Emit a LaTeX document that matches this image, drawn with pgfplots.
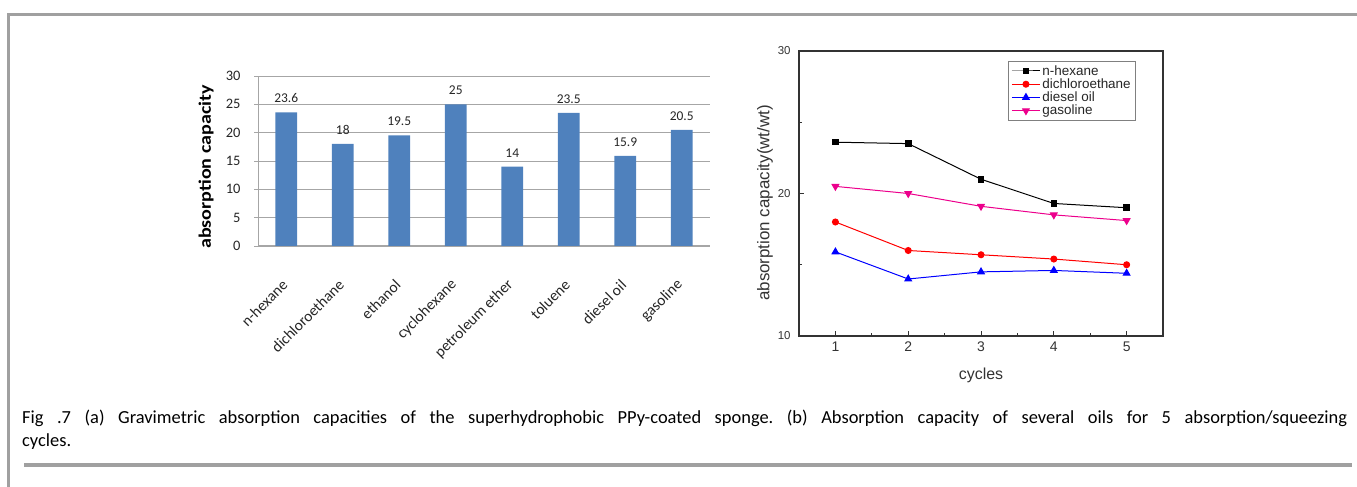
\documentclass[border=0pt]{standalone}
\usepackage{fontspec}
\setmainfont{Carlito}
\newfontfamily\arialfont{Liberation Sans}
\usepackage{pgfplots}
\pgfplotsset{compat=1.18}
\definecolor{barblue}{HTML}{4F81BD}
\definecolor{framegray}{HTML}{A0A0A0}
\definecolor{gridgray}{HTML}{A6A6A6}
\definecolor{axisdark}{HTML}{333333}

\begin{document}
\begin{tikzpicture}[x=1bp,y=1bp]
\path[use as bounding box] (0,0) rectangle (1357,487);

% page frame
\draw[framegray, line width=3bp] (8,0) -- (8,472.5) -- (1357,472.5);
\draw[framegray, line width=4bp] (24,22.3) -- (1352,22.3);

% (a) gravimetric absorption capacities
\begin{axis}[
  at={(258bp,241bp)}, anchor=south west, scale only axis,
  width=452bp, height=170bp,
  xmin=-0.5, xmax=7.5, ymin=0, ymax=30,
  axis x line*=bottom, axis y line*=left,
  axis line style={-, gridgray, line width=1bp},
  ytick={0,5,...,30},
  xtick={0,...,7},
  xticklabels={n-hexane, dichloroethane, ethanol, cyclohexane, petroleum ether, toluene, diesel oil, gasoline},
  ymajorgrids,
  major grid style={gridgray, line width=0.9bp},
  xtick style={draw=none},
  ytick style={gridgray, line width=0.9bp},
  tick align=outside, major tick length=4bp,
  /pgf/number format/assume math mode=true,
  tick label style={font=\fontsize{14.5}{16}\selectfont, text=black!85},
  yticklabel style={anchor=east, xshift=-10bp},
  xticklabel style={font=\fontsize{15.5}{17}\selectfont, xshift=1bp, yshift=-30bp, rotate=45, anchor=east},
  ylabel={absorption capacity},
  every axis y label/.style={at={(axis description cs:-0.115,0.465)}, rotate=90, xscale=1.15, anchor=center,
    font=\fontsize{17.5}{19}\selectfont\bfseries, text=black},
  nodes near coords,
  nodes near coords style={font=\fontsize{13.5}{15}\selectfont, text=black!85, anchor=south, yshift=6bp},
  clip=false,
]
\addplot[ybar, bar width=21.7bp, fill=barblue, draw=none] coordinates {
  (0,23.6) (1,18) (2,19.5) (3,25) (4,14) (5,23.5) (6,15.9) (7,20.5)
};
\end{axis}

% (b) absorption over repeated cycles
\begin{axis}[
  at={(799bp,151bp)}, anchor=south west, scale only axis,
  width=364bp, height=285bp,
  xmin=0.5, xmax=5.5, ymin=10, ymax=30,
  xtick={1,...,5}, ytick={10,20,30},
  minor xtick={1.5,2.5,3.5,4.5}, minor ytick={15,25},
  xtick pos=left, ytick pos=left,
  tick align=inside, major tick length=4.5bp, minor tick length=2.5bp,
  axis line style={axisdark, line width=1.3bp},
  tick style={axisdark, line width=1bp},
  /pgf/number format/assume math mode=true,
  xticklabel style={font=\arialfont\fontsize{14}{16}\selectfont, text=axisdark, yshift=-2bp},
  yticklabel style={font=\arialfont\fontsize{11.5}{13}\selectfont, text=axisdark, xshift=-5bp},
  xlabel={cycles},
  ylabel={absorption capacity(wt/wt)},
  every axis x label/.style={at={(axis description cs:0.5,-0.137)}, anchor=center,
    font=\arialfont\fontsize{16}{18}\selectfont, text=axisdark},
  every axis y label/.style={at={(axis description cs:-0.0934,0.467)}, rotate=90, anchor=center,
    font=\arialfont\fontsize{17}{19}\selectfont, text=axisdark},
  legend style={at={(axis description cs:0.926,0.965)}, anchor=north east,
    draw=gray, line width=0.8bp, fill=white,
    font=\arialfont\fontsize{13.5}{14}\selectfont, text=black!85,
    inner xsep=3bp, inner ysep=2bp, row sep=-2bp,
    nodes={inner sep=2bp}},
  legend cell align=left,
  legend image code/.code={\draw[mark repeat=2, mark phase=2, #1] plot coordinates {(0bp,0bp) (14bp,0bp) (28bp,0bp)};},
  every axis plot/.append style={line width=1bp},
]
\addplot[black, mark=square*, mark size=2.8bp, mark options={solid}] coordinates {
  (1,23.6) (2,23.5) (3,21.0) (4,19.3) (5,19.0)
};
\addlegendentry{n-hexane}
\addplot[red, mark=*, mark size=3bp] coordinates {
  (1,18.0) (2,16.0) (3,15.7) (4,15.4) (5,15.0)
};
\addlegendentry{dichloroethane}
\addplot[blue, mark=triangle*, mark size=3.8bp] coordinates {
  (1,15.9) (2,14.0) (3,14.5) (4,14.6) (5,14.4)
};
\addlegendentry{diesel oil}
\addplot[magenta, mark=triangle*, mark size=3.8bp, mark options={rotate=180}] coordinates {
  (1,20.5) (2,20.0) (3,19.1) (4,18.5) (5,18.1)
};
\addlegendentry{gasoline}
\end{axis}

% caption
\frenchspacing
\node[anchor=base west, inner sep=0, font=\fontsize{18.5}{23}\selectfont] at (22bp,63bp)
  {\makebox[1325bp][s]{Fig .7 (a) Gravimetric absorption capacities of the superhydrophobic PPy-coated sponge. (b) Absorption capacity of several oils for 5 absorption/squeezing}};
\node[anchor=base west, inner sep=0, font=\fontsize{18.5}{23}\selectfont] at (22bp,40bp) {cycles.};
\end{tikzpicture}
\end{document}
